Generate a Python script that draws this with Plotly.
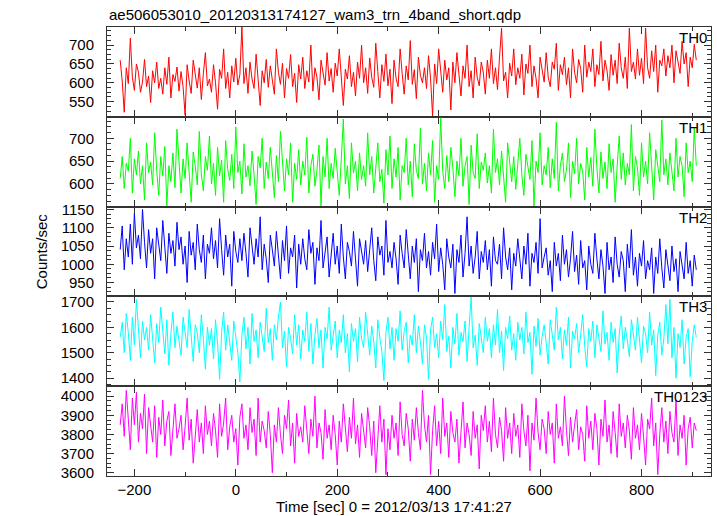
import plotly.graph_objects as go
from plotly.subplots import make_subplots

# Time bins (sec), 0 = 2012/03/13 17:41:27
T_START = -228.0
T_STEP = 4.0

TH0 = [
    660, 605, 522, 640, 598, 718, 615, 580, 650, 628, 575, 602, 662, 590, 618,
    548, 632, 600, 655, 585, 612, 570, 640, 596, 668, 560, 622, 604, 642, 578,
    630, 590, 515, 648, 605, 572, 660, 618, 586, 640, 556, 625, 680, 592, 610,
    575, 648, 600, 530, 636, 612, 690, 585, 628, 560, 645, 602, 665, 594, 622,
    748, 598, 640, 572, 655, 610, 585, 676, 618, 540, 632, 600, 662, 588, 645,
    604, 570, 690, 628, 596, 652, 560, 638, 612, 675, 590, 625, 548, 648, 610,
    668, 585, 632, 602, 700, 578, 640, 615, 555, 660, 622, 594, 680, 605, 638,
    575, 652, 618, 690, 598, 540, 636, 610, 672, 590, 628, 565, 655, 612, 700,
    600, 640, 572, 666, 615, 588, 705, 630, 560, 648, 604, 676, 592, 636, 545,
    660, 612, 590, 690, 625, 570, 645, 608, 712, 596, 635, 558, 668, 620, 600,
    640, 585, 672, 612, 512, 650, 598, 690, 622, 575, 660, 608, 640, 528, 655,
    600, 680, 618, 565, 645, 612, 700, 590, 632, 560, 668, 615, 592, 655, 628,
    570, 660, 612, 690, 598, 640, 582, 668, 745, 605, 628, 560, 652, 618, 690,
    595, 640, 612, 676, 568, 650, 625, 700, 590, 645, 612, 560, 668, 630, 602,
    680, 615, 590, 655, 636, 705, 580, 648, 622, 668, 595, 640, 560, 690, 628,
    600, 662, 638, 575, 700, 615, 655, 630, 690, 590, 648, 622, 710, 605, 660,
    632, 580, 675, 620, 660, 598, 705, 640, 612, 668, 585, 745, 630, 655, 610,
    690, 620, 665, 598, 745, 640, 612, 685, 630, 700, 575, 660, 645, 690, 618,
    672, 640, 700, 600, 685, 655, 625, 710, 650, 680, 590, 668, 640, 702, 660,
]

TH1 = [
    612, 660, 590, 645, 628, 700, 580, 655, 620, 672, 600, 640, 565, 690, 625,
    648, 598, 712, 630, 575, 660, 618, 682, 552, 640, 605, 668, 592, 720, 635,
    580, 655, 612, 690, 628, 560, 670, 640, 598, 715, 622, 585, 660, 630, 705,
    600, 645, 575, 680, 618, 652, 560, 695, 632, 608, 665, 590, 725, 625, 650,
    578, 688, 615, 640, 596, 672, 620, 555, 660, 635, 700, 590, 648, 612, 680,
    628, 570, 662, 605, 715, 640, 585, 655, 620, 690, 560, 645, 610, 675, 598,
    650, 620, 702, 580, 640, 665, 595, 630, 685, 552, 660, 615, 700, 590, 645,
    612, 678, 628, 575, 655, 742, 600, 640, 568, 690, 625, 650, 585, 668, 610,
    640, 595, 712, 620, 660, 580, 645, 690, 605, 632, 558, 675, 620, 705, 590,
    655, 615, 680, 565, 640, 625, 700, 598, 650, 572, 688, 630, 612, 722, 600,
    645, 585, 668, 620, 695, 560, 640, 610, 745, 628, 590, 662, 605, 680, 635,
    572, 650, 618, 700, 595, 640, 660, 555, 685, 625, 612, 710, 590, 648, 630,
    668, 602, 640, 580, 720, 625, 655, 598, 672, 615, 560, 690, 638, 605, 660,
    588, 645, 700, 620, 575, 665, 632, 610, 695, 552, 650, 625, 712, 598, 640,
    620, 680, 592, 655, 612, 735, 585, 640, 668, 605, 630, 690, 570, 650, 622,
    700, 600, 645, 628, 565, 680, 615, 658, 595, 720, 635, 580, 670, 612, 648,
    590, 688, 625, 655, 560, 640, 705, 610, 668, 598, 645, 620, 730, 585, 660,
    635, 575, 690, 615, 650, 600, 712, 628, 565, 675, 640, 605, 740, 620, 655,
    598, 668, 630, 585, 700, 615, 660, 640, 572, 690, 625, 650, 605, 722, 640,
]

TH2 = [
    1040, 1105, 985, 1070, 1020, 1110, 1000, 1140, 1045, 1080, 1015, 1150, 1060, 990, 1095,
    1030, 1070, 960, 1100, 1045, 1010, 1120, 1055, 975, 1085, 1030, 1065, 995, 1115, 1040,
    1075, 1000, 1050, 950, 1090, 1025, 1060, 985, 1110, 1040, 1005, 1080, 960, 1055, 1030,
    1100, 1015, 1065, 990, 1125, 1040, 970, 1080, 1020, 1055, 940, 1090, 1035, 1005, 1070,
    1010, 1085, 1030, 965, 1100, 1045, 1000, 1070, 1020, 1130, 985, 1055, 1015, 950, 1080,
    1040, 995, 1090, 1025, 960, 1065, 1010, 1105, 975, 1045, 1020, 1080, 935, 1055, 1000,
    1070, 1015, 985, 1095, 1030, 1060, 945, 1045, 1010, 1120, 990, 1040, 1075, 965, 1025,
    1085, 1000, 1050, 975, 1110, 1020, 960, 1060, 1035, 995, 1090, 1015, 940, 1070, 1030,
    1000, 1065, 980, 1040, 1100, 1010, 955, 1075, 1025, 1050, 970, 1120, 1005, 1035, 990,
    1060, 1015, 945, 1080, 1030, 990, 1095, 1020, 960, 1050, 1005, 1070, 925, 1040, 1010,
    1085, 990, 1035, 970, 1060, 1015, 1110, 980, 1045, 1000, 930, 1070, 1020, 990, 1055,
    920, 1040, 1005, 1080, 965, 1030, 1130, 995, 1050, 975, 1020, 1090, 960, 1035, 1005,
    1065, 985, 1040, 940, 1075, 1010, 1000, 1055, 960, 1100, 1020, 985, 1045, 930, 1030,
    995, 1070, 1015, 960, 1050, 1000, 1085, 940, 1030, 1005, 1060, 975, 1125, 990, 1020,
    1045, 970, 1010, 925, 1060, 995, 1030, 955, 1080, 1000, 1040, 965, 1015, 1090, 980,
    1025, 945, 1065, 990, 1010, 930, 1050, 1000, 975, 1085, 1015, 960, 1040, 995, 920,
    1060, 985, 1020, 950, 1075, 1000, 965, 1035, 1010, 925, 1055, 990, 1095, 970, 1020,
    940, 1030, 995, 1065, 960, 1010, 985, 1045, 920, 1020, 975, 1070, 990, 935, 1040,
    1000, 955, 1050, 980, 1015, 925, 1035, 990, 960, 1060, 975, 1010, 940, 1025, 985,
]

TH3 = [
    1560, 1620, 1500, 1655, 1580, 1470, 1640, 1530, 1710, 1590, 1480, 1625, 1550, 1600, 1510,
    1650, 1560, 1460, 1615, 1540, 1680, 1585, 1495, 1630, 1450, 1575, 1660, 1520, 1605, 1545,
    1490, 1640, 1570, 1520, 1670, 1545, 1465, 1610, 1580, 1500, 1650, 1555, 1435, 1600, 1530,
    1595, 1475, 1630, 1540, 1395, 1580, 1660, 1510, 1610, 1545, 1470, 1625, 1560, 1500, 1385,
    1570, 1640, 1515, 1600, 1455, 1655, 1545, 1590, 1480, 1620, 1560, 1505, 1675, 1540, 1595,
    1470, 1610, 1550, 1640, 1700, 1520, 1585, 1445, 1600, 1555, 1495, 1650, 1530, 1610, 1475,
    1590, 1545, 1660, 1505, 1615, 1455, 1570, 1635, 1520, 1590, 1440, 1600, 1555, 1680, 1510,
    1560, 1625, 1480, 1590, 1540, 1650, 1500, 1575, 1425, 1615, 1545, 1595, 1465, 1640, 1555,
    1520, 1660, 1575, 1490, 1605, 1545, 1440, 1630, 1560, 1505, 1390, 1580, 1640, 1515, 1600,
    1470, 1595, 1545, 1665, 1510, 1585, 1620, 1460, 1570, 1530, 1650, 1500, 1605, 1545, 1455,
    1610, 1560, 1395, 1590, 1640, 1520, 1575, 1480, 1625, 1550, 1690, 1505, 1565, 1440, 1600,
    1535, 1655, 1490, 1580, 1545, 1625, 1465, 1600, 1720, 1520, 1570, 1450, 1615, 1560, 1500,
    1640, 1545, 1595, 1480, 1610, 1530, 1670, 1500, 1585, 1430, 1600, 1555, 1645, 1510, 1575,
    1470, 1620, 1550, 1600, 1495, 1660, 1540, 1580, 1415, 1605, 1525, 1635, 1490, 1565, 1610,
    1540, 1455, 1630, 1575, 1510, 1680, 1550, 1600, 1475, 1590, 1530, 1640, 1440, 1585, 1555,
    1615, 1500, 1570, 1650, 1525, 1445, 1595, 1545, 1625, 1480, 1610, 1560, 1505, 1665, 1535,
    1580, 1470, 1620, 1540, 1595, 1420, 1570, 1645, 1515, 1600, 1550, 1485, 1630, 1560, 1510,
    1640, 1545, 1460, 1605, 1575, 1500, 1660, 1530, 1590, 1410, 1570, 1620, 1490, 1555, 1690,
    1535, 1710, 1480, 1600, 1400, 1575, 1520, 1630, 1455, 1560, 1595, 1405, 1545, 1610, 1560,
]

TH0123 = [
    3850, 3960, 3790, 4030, 3880, 3720, 3990, 3850, 4020, 3760, 3910, 3830, 4010, 3700, 3940,
    3860, 3760, 3950, 3680, 3890, 3800, 3980, 3740, 3870, 3920, 3690, 3850, 3960, 3780, 3830,
    3900, 3720, 3840, 3990, 3770, 3880, 3650, 3820, 3930, 3760, 3860, 3700, 3950, 3800, 3870,
    3740, 3910, 3820, 3680, 3960, 3790, 3860, 3990, 3720, 3840, 3900, 3760, 3830, 3640, 3890,
    3960, 3780, 3850, 3720, 3940, 3810, 3880, 3690, 3990, 3760, 3870, 3820, 3730, 3920, 3800,
    3600, 3850, 3760, 3940, 3800, 3700, 3900, 3830, 3980, 3740, 3860, 3650, 3910, 3790, 3840,
    3760, 3950, 3820, 3700, 3880, 3790, 4000, 3730, 3860, 3810, 3670, 3930, 3780, 3850, 3720,
    3900, 3800, 3640, 3870, 3760, 3960, 3820, 3710, 3890, 3780, 3990, 3750, 3850, 3680, 3910,
    3800, 3730, 3940, 3840, 3690, 3870, 3600, 3810, 3950, 3760, 3880, 3590, 3830, 3720, 3900,
    3780, 3860, 3690, 3970, 3800, 3740, 3910, 3830, 3660, 3880, 3770, 3940, 3810, 3720, 4030,
    3850, 3760, 3900, 3590, 3820, 3950, 3740, 3870, 3700, 3990, 3790, 3860, 3680, 3920, 3810,
    3760, 3880, 3650, 3840, 3970, 3730, 3860, 3800, 3690, 3920, 3780, 3850, 3620, 3900, 3820,
    3950, 3760, 3870, 3710, 3990, 3800, 3730, 3890, 3820, 3660, 3940, 3780, 3860, 3700, 3910,
    3790, 3850, 3680, 3960, 3820, 3740, 3900, 3610, 3860, 3770, 3990, 3810, 3720, 3880, 3830,
    3700, 3920, 3800, 3860, 3650, 3960, 3780, 3840, 3740, 4000, 3820, 3690, 3890, 3760, 3850,
    3930, 3720, 3840, 3800, 3660, 3950, 3780, 3870, 3720, 3910, 3830, 3640, 3880, 3790, 3980,
    3760, 3850, 3700, 3920, 3810, 3680, 3960, 3790, 3860, 3730, 3900, 3820, 3670, 3940, 3780,
    3850, 3720, 3910, 3790, 3640, 3880, 3830, 3990, 3740, 3860, 3590, 3800, 3940, 3760, 3870,
    3700, 3920, 3810, 3760, 3980, 3690, 3850, 3780, 3900, 3640, 3830, 3890, 3730, 3860, 3820,
]

PANEL_NAMES = ["TH0", "TH1", "TH2", "TH3", "TH0123"]
PANEL_DATA = [TH0, TH1, TH2, TH3, TH0123]
PANEL_COLORS = ["#ff0000", "#00ff00", "#0000ff", "#00ffff", "#ff00ff"]
Y_RANGES = [[510, 748], [550.5, 747], [912, 1158], [1368, 1722], [3583, 4052]]
Y_DTICK = [50, 50, 50, 100, 100]
X_RANGE = [-254, 937]

TITLE = "ae506053010_20120313174127_wam3_trn_4band_short.qdp"
X_TITLE = "Time [sec] 0 = 2012/03/13 17:41:27"
Y_TITLE = "Counts/sec"

FONT = "Liberation Sans, Arial, Helvetica, sans-serif"
AXIS_COLOR = "#333333"

fig = make_subplots(rows=5, cols=1, shared_xaxes=True, vertical_spacing=0)

for k, (name, vals, col) in enumerate(zip(PANEL_NAMES, PANEL_DATA, PANEL_COLORS)):
    t = [T_START + T_STEP * i for i in range(len(vals))]
    fig.add_trace(
        go.Scatter(x=t, y=vals, mode="lines", line=dict(color=col, width=1),
                   showlegend=False, hoverinfo="skip"),
        row=k + 1, col=1)
    fig.update_yaxes(
        range=Y_RANGES[k], tickmode="linear", tick0=0, dtick=Y_DTICK[k],
        ticks="inside", ticklen=7, tickwidth=1, tickcolor=AXIS_COLOR,
        minor=dict(ticks="inside", dtick=Y_DTICK[k] / 4, tick0=0, ticklen=4,
                   tickcolor=AXIS_COLOR, showgrid=False),
        mirror="ticks", showline=True, linecolor=AXIS_COLOR, linewidth=1,
        showgrid=False, zeroline=False, ticklabelstandoff=9,
        tickfont=dict(size=15, color="black", family=FONT),
        row=k + 1, col=1)
    yref = "y" if k == 0 else f"y{k + 1}"
    fig.add_annotation(
        text=name, xref=f"x{'' if k == 0 else k + 1} domain", yref=f"{yref} domain",
        x=1, y=1, xanchor="right", yanchor="top", xshift=-2, yshift=0,
        showarrow=False, font=dict(size=15, color="black", family=FONT))

fig.update_xaxes(
    range=X_RANGE, tickmode="linear", tick0=0, dtick=200,
    ticks="inside", ticklen=7, tickwidth=1, tickcolor=AXIS_COLOR,
    minor=dict(ticks="inside", dtick=100, tick0=0, ticklen=4,
               tickcolor=AXIS_COLOR, showgrid=False),
    mirror="ticks", showline=True, linecolor=AXIS_COLOR, linewidth=1,
    showgrid=False, zeroline=False,
    tickfont=dict(size=15, color="black", family=FONT))

fig.add_annotation(text=TITLE, xref="paper", yref="paper", x=0, y=1,
                   xanchor="left", yanchor="bottom", yshift=2, showarrow=False,
                   font=dict(size=15, color="black", family=FONT))
fig.add_annotation(text=Y_TITLE, xref="paper", yref="paper", x=-0.108, y=0.5,
                   xanchor="center", yanchor="middle", textangle=-90, showarrow=False,
                   font=dict(size=15, color="black", family=FONT))
fig.add_annotation(text=X_TITLE, xref="paper", yref="paper", x=0.475, y=-0.069,
                   xanchor="center", yanchor="middle", showarrow=False,
                   font=dict(size=15, color="black", family=FONT))

fig.update_layout(
    width=717, height=516,
    margin=dict(l=107, r=6, t=27, b=40),
    paper_bgcolor="white", plot_bgcolor="white",
    font=dict(family=FONT, size=15, color="black"),
)

fig.write_html("out.html",
               config={"displayModeBar": False},
               post_script="document.body.style.margin='0';"
                           "document.body.style.overflow='hidden';")
